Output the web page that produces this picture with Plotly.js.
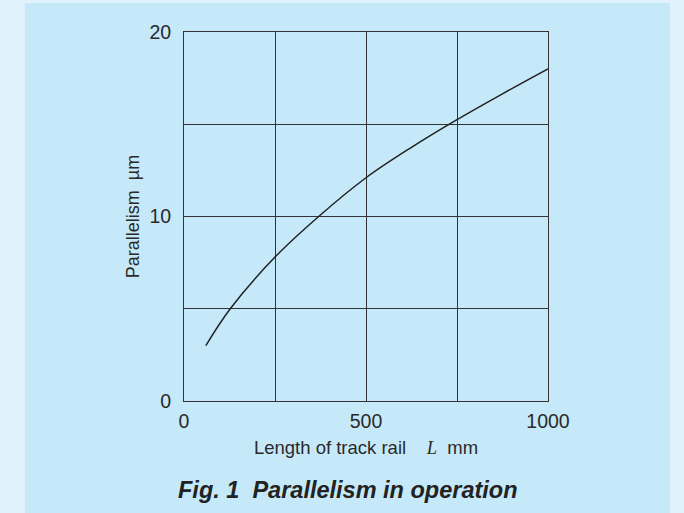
<!DOCTYPE html>
<html>
<head>
<meta charset="utf-8">
<script src="https://cdn.plot.ly/plotly-3.0.1.min.js"></script>
<style>
html,body{margin:0;padding:0;background:#e0f3fc;}
#chart{width:684px;height:513px;}
</style>
</head>
<body>
<div id="chart"></div>
<script>
// Data
var railLength = [60, 127, 250, 370, 500, 625, 750, 875, 1000];   // L, mm
var parallelism = [3, 5, 7.8, 10, 12.1, 13.75, 15.25, 16.65, 18]; // µm

var xTickVals = [0, 250, 500, 750, 1000];
var xTickText = ['0', '', '500', '', '1000'];
var yTickVals = [0, 5, 10, 15, 20];
var yTickText = ['0', '', '10', '', '20'];

var xTitle = 'Length of track rail&nbsp;&nbsp;&nbsp;&nbsp;<span style="font-family:\'Liberation Serif\', \'DejaVu Serif\', serif"><i>L</i></span>&nbsp;&nbsp;mm';
var yTitle = 'Parallelism&nbsp;&nbsp;µm';
var caption = '<b><i>Fig. 1&nbsp;&nbsp;Parallelism in operation</i></b>';

var trace = {
  x: railLength,
  y: parallelism,
  type: 'scatter',
  mode: 'lines',
  line: {color: '#222222', width: 1.5, shape: 'spline', smoothing: 1},
  hoverinfo: 'x+y'
};

var fam = 'Liberation Sans, Arial, sans-serif';
var tickFont = {family: fam, size: 19.5, color: '#2a2a2a'};
var titleFont = {family: fam, size: 18.5, color: '#2a2a2a'};

var layout = {
  width: 684,
  height: 513,
  margin: {l: 184, r: 136, t: 32, b: 112, pad: 0},
  paper_bgcolor: '#e0f3fc',
  plot_bgcolor: '#ffffff',
  showlegend: false,
  font: tickFont,
  xaxis: {
    range: [0, 1000],
    tickmode: 'array',
    tickvals: xTickVals,
    ticktext: xTickText,
    ticks: '',
    ticklabelstandoff: 3,
    showgrid: true,
    gridcolor: '#333333',
    gridwidth: 1,
    zeroline: false,
    showline: true,
    linecolor: '#333333',
    linewidth: 1,
    mirror: true,
    fixedrange: true,
    tickfont: tickFont,
    title: {text: xTitle, font: titleFont, standoff: 9}
  },
  yaxis: {
    range: [0, 20],
    tickmode: 'array',
    tickvals: yTickVals,
    ticktext: yTickText,
    ticks: '',
    ticklabelstandoff: 8,
    showgrid: true,
    gridcolor: '#333333',
    gridwidth: 1,
    zeroline: false,
    showline: true,
    linecolor: '#333333',
    linewidth: 1,
    mirror: true,
    fixedrange: true,
    tickfont: tickFont,
    title: {text: yTitle, font: {family: fam, size: 18, color: '#2a2a2a'}, standoff: 5}
  },
  shapes: [{
    type: 'rect', xref: 'paper', yref: 'paper', layer: 'below',
    x0: -0.4368, x1: 1.3352, y0: -1, y1: 1.0786,
    fillcolor: '#c6e9f9', line: {width: 0}
  }],
  annotations: [{
    xref: 'paper', yref: 'paper', x: 0.451, y: -0.241,
    xanchor: 'center', yanchor: 'middle', showarrow: false,
    text: caption,
    font: {family: fam, size: 23.5, color: '#222222'}
  }]
};

Plotly.newPlot('chart', [trace], layout, {displayModeBar: false});
</script>
</body>
</html>
